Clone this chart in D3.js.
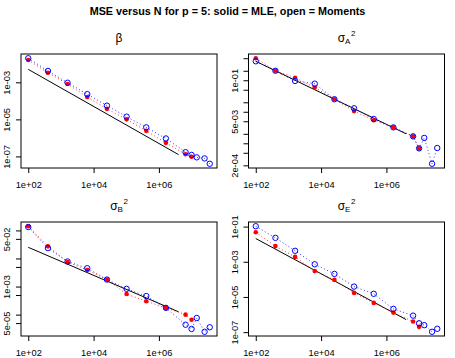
<!DOCTYPE html>
<html>
<head>
<meta charset="utf-8">
<script src="https://cdn.jsdelivr.net/npm/d3@7"></script>
<style>
body { margin: 0; background: #fff; }
svg { display: block; font-family: "Liberation Sans", Arial, sans-serif; }
</style>
</head>
<body>
<svg id="chart" width="455" height="358"></svg>
<script>
// sample sizes N (MLE uses the first 10, Moments all 13)
const sampleN = [1e2, 4e2, 1.6e3, 6.4e3, 2.56e4, 1.024e5, 4.096e5, 1.6384e6, 6.5536e6, 1e7, 1.44e7, 2.5e7, 3.6e7]
// endpoints of the solid reference line
const refN = [1e2, 4e6]

// beta
const betaMLE = [1.6e-2, 3.3e-3, 8.1e-4, 1.6e-4, 3.7e-5, 1.0e-5, 2.4e-6, 5.4e-7, 1.3e-7, 9.5e-8]
const betaMom = [2.0e-2, 4.1e-3, 9.5e-4, 2.3e-4, 5.5e-5, 1.4e-5, 3.7e-6, 9.3e-7, 1.7e-7, 1.2e-7, 8.9e-8, 7.8e-8, 4.0e-8]
const betaRef = [5.0e-3, 1.25e-7]

// sigma_A^2
const sigAMLE = [0.50, 0.20, 0.12, 0.059, 0.025, 0.0105, 0.0054, 0.0032, 0.00166, 0.00069]
const sigAMom = [0.40, 0.20, 0.095, 0.078, 0.025, 0.0129, 0.0059, 0.0032, 0.00166, 0.00069, 0.00148, 0.000224, 0.00071]
const sigARef = [0.40, 0.002]

// sigma_B^2
const sigBMLE = [0.141, 0.027, 0.0074, 0.0039, 0.00178, 0.00054, 0.0003, 0.000174, 0.0001, 0.000066]
const sigBMom = [0.132, 0.0234, 0.0078, 0.0045, 0.00178, 0.00083, 0.00046, 0.000174, 4.37e-5, 3.09e-5, 7.59e-5, 2.45e-5, 3.55e-5]
const sigBRef = [0.025, 1.26e-4]

// sigma_E^2
const sigEMLE = [0.048, 0.0078, 0.0019, 0.000295, 9.33e-5, 1.7e-5, 4.6e-6, 1.29e-6, 4.0e-7, 2.0e-7]
const sigEMom = [0.105, 0.0229, 0.0042, 0.00072, 0.000204, 3.89e-5, 1.51e-5, 2.1e-6, 8.7e-7, 3.2e-7, 2.5e-7, 1.05e-7, 1.55e-7]
const sigERef = [0.021, 5.2e-7]

// axis ticks and labels ('' = tick without label)
const xTicks = [1e2, 1e4, 1e6]
const xLabels = ['1e+02', '1e+04', '1e+06']
const betaTicks = [1e-7, 1e-5, 1e-3]
const betaLabels = ['1e-07', '1e-05', '1e-03']
const sigATicks = [2e-4, 5e-4, 1e-3, 2e-3, 5e-3, 1e-2, 2e-2, 5e-2, 1e-1, 2e-1, 5e-1]
const sigALabels = ['2e-04', '', '', '', '5e-03', '', '', '', '1e-01', '', '']
const sigBTicks = [5e-5, 1e-4, 5e-4, 1e-3, 5e-3, 1e-2, 5e-2, 1e-1]
const sigBLabels = ['5e-05', '', '', '1e-03', '', '', '5e-02', '']
const sigETicks = [1e-7, 1e-5, 1e-3, 1e-1]
const sigELabels = ['1e-07', '1e-05', '1e-03', '1e-01']

const mainTitle = 'MSE versus N for p = 5: solid = MLE, open = Moments'

const panels = [
	{ sym: 'β', sub: '', sup: '', mle: betaMLE, mom: betaMom, ref: betaRef, ticks: betaTicks, labels: betaLabels },
	{ sym: 'σ', sub: 'A', sup: '2', mle: sigAMLE, mom: sigAMom, ref: sigARef, ticks: sigATicks, labels: sigALabels },
	{ sym: 'σ', sub: 'B', sup: '2', mle: sigBMLE, mom: sigBMom, ref: sigBRef, ticks: sigBTicks, labels: sigBLabels },
	{ sym: 'σ', sub: 'E', sup: '2', mle: sigEMLE, mom: sigEMom, ref: sigERef, ticks: sigETicks, labels: sigELabels }
]

const svg = d3.select('#chart')
const boxW = 196
const boxH = 114
const origins = [[21, 54], [248.5, 54], [21, 222], [248.5, 222]]
const axisFont = '9.3px'
const red = '#FF0000'
const blue = '#0000FF'

// R style 4% padding on log scale
const logPad = (vals) => {
	const lo = Math.log10(d3.min(vals))
	const hi = Math.log10(d3.max(vals))
	const p = (hi - lo) * 0.04
	return [Math.pow(10, lo - p), Math.pow(10, hi + p)]
}

svg.append('text')
	.attr('x', 227.5)
	.attr('y', 15)
	.attr('text-anchor', 'middle')
	.style('font-weight', 'bold')
	.style('font-size', '10.8px')
	.text(mainTitle)

panels.forEach((p, k) => {
	const [x0, y0] = origins[k]
	const g = svg.append('g')

	const xScale = d3.scaleLog()
		.domain(logPad(sampleN))
		.range([x0, x0 + boxW])
	const yScale = d3.scaleLog()
		.domain(logPad(p.mle.concat(p.mom)))
		.range([y0 + boxH, y0])

	// x axis
	const xAxis = d3.axisBottom(xScale)
		.tickValues(xTicks)
		.tickFormat((d, i) => xLabels[i])
		.tickSize(5)
		.tickPadding(8.7)
	g.append('g')
		.attr('transform', `translate(0, ${y0 + boxH})`)
		.call(xAxis)

	// y axis, labels turned vertical
	const yAxis = d3.axisLeft(yScale)
		.tickValues(p.ticks)
		.tickFormat((d, i) => p.labels[i])
		.tickSize(5)
	const yg = g.append('g')
		.attr('transform', `translate(${x0}, 0)`)
		.call(yAxis)
	yg.selectAll('.tick text')
		.attr('x', null)
		.attr('dy', null)
		.attr('text-anchor', 'middle')
		.attr('transform', 'translate(-11, 0) rotate(-90)')

	g.selectAll('path.domain').remove()
	g.selectAll('.tick line').style('stroke', '#000')
	g.selectAll('.tick text')
		.style('fill', '#000')
		.style('font-size', axisFont)
		.style('font-family', '"Liberation Sans", Arial, sans-serif')

	// box
	g.append('rect')
		.attr('x', x0)
		.attr('y', y0)
		.attr('width', boxW)
		.attr('height', boxH)
		.style('fill', 'none')
		.style('stroke', '#000')

	// panel title
	const t = g.append('text')
		.attr('x', x0 + boxW / 2)
		.attr('y', y0 - 12.5)
		.attr('text-anchor', 'middle')
		.style('font-size', '12px')
	t.append('tspan').text(p.sym)
	if (p.sub) {
		t.append('tspan').attr('dy', 2.5).style('font-size', '8px').text(p.sub)
		t.append('tspan').attr('dy', -8.5).attr('dx', 0.5).style('font-size', '8px').text(p.sup)
	}

	const line = d3.line()
		.x(d => xScale(d[0]))
		.y(d => yScale(d[1]))

	const mlePts = p.mle.map((v, i) => [sampleN[i], v])
	const momPts = p.mom.map((v, i) => [sampleN[i], v])

	// reference line
	g.append('path')
		.attr('d', line(refN.map((n, i) => [n, p.ref[i]])))
		.style('fill', 'none')
		.style('stroke', '#000')
		.style('stroke-width', 1)

	// dotted connectors
	g.append('path')
		.attr('d', line(mlePts))
		.style('fill', 'none')
		.style('stroke', red)
		.style('stroke-width', 0.8)
		.style('stroke-dasharray', '1,2.5')
	g.append('path')
		.attr('d', line(momPts))
		.style('fill', 'none')
		.style('stroke', blue)
		.style('stroke-width', 0.8)
		.style('stroke-dasharray', '1,2.5')

	// MLE solid dots
	g.selectAll('circle.mle')
		.data(mlePts)
		.enter()
		.append('circle')
		.attr('class', 'mle')
		.attr('cx', d => xScale(d[0]))
		.attr('cy', d => yScale(d[1]))
		.attr('r', 2.3)
		.style('fill', red)

	// Moments open circles
	g.selectAll('circle.mom')
		.data(momPts)
		.enter()
		.append('circle')
		.attr('class', 'mom')
		.attr('cx', d => xScale(d[0]))
		.attr('cy', d => yScale(d[1]))
		.attr('r', 2.7)
		.style('fill', 'none')
		.style('stroke', blue)
		.style('stroke-width', 1)
})
</script>
</body>
</html>
